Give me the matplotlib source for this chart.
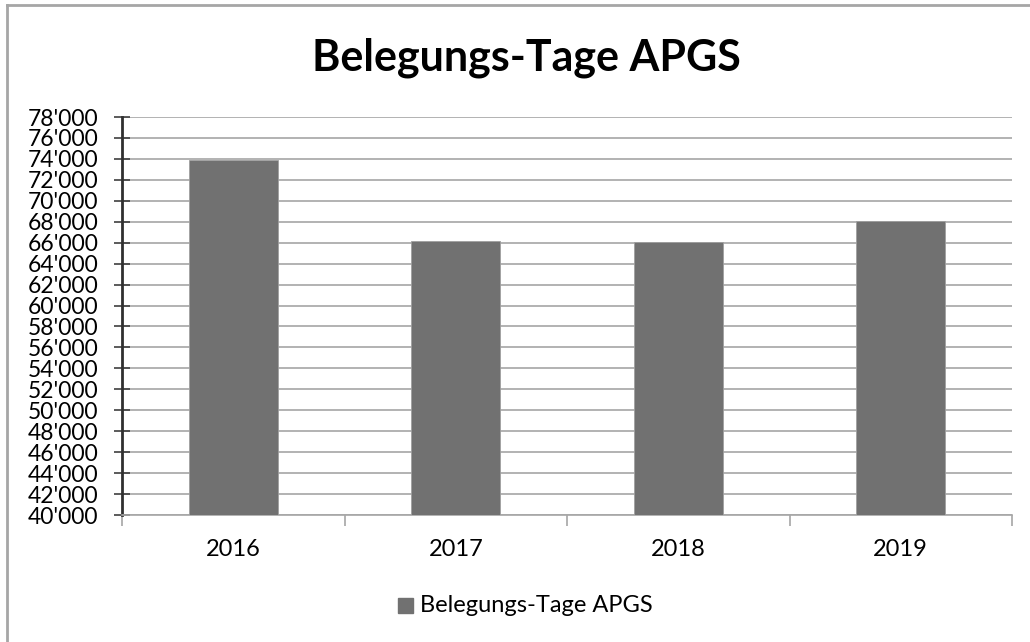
import matplotlib
matplotlib.use("Agg")
import matplotlib.pyplot as plt
from matplotlib.ticker import FuncFormatter, MultipleLocator
from matplotlib.lines import Line2D

plt.rcParams['font.family'] = ['Lato', 'DejaVu Sans']

# Daten
jahre = ['2016', '2017', '2018', '2019']
belegungstage = [73850, 66150, 66050, 68100]
titel = 'Belegungs-Tage APGS'

W, H = 1030, 642
fig = plt.figure(figsize=(W / 100, H / 100), dpi=100)

# Rahmen (nur links und oben sichtbar)
fig.add_artist(Line2D([7 / W, 7 / W], [0, 1 - 5 / H], color='#a6a6a6', lw=2))
fig.add_artist(Line2D([7 / W, 1], [1 - 5 / H, 1 - 5 / H], color='#a6a6a6', lw=2))

ax = fig.add_axes([122 / W, (H - 515) / H, 890 / W, 398 / H])

x = range(len(jahre))
ax.bar(x, belegungstage, width=0.4, color='#717171', edgecolor='#a0a0a0', lw=0.6, zorder=3)

ax.set_xlim(-0.5, len(jahre) - 0.5)
ax.set_ylim(40000, 78000)
ax.yaxis.set_major_locator(MultipleLocator(2000))
ax.yaxis.set_major_formatter(FuncFormatter(lambda v, p: f"{int(v):,}".replace(',', "'")))
ax.grid(axis='y', color='#a6a6a6', lw=1.2, zorder=0)

ax.set_xticks(list(x))
ax.set_xticklabels(jahre, fontsize=17)
ax.set_xticks([i - 0.5 for i in range(len(jahre) + 1)], minor=True)
ax.tick_params(axis='x', which='major', length=0, pad=17)
ax.tick_params(axis='x', which='minor', length=8, color='#a6a6a6', width=1.2, direction='out')
ax.tick_params(axis='y', labelsize=16.5, direction='inout', length=12, width=1.2,
               color='#404040', pad=11)

for s in ['top', 'right']:
    ax.spines[s].set_visible(False)
ax.spines['left'].set_color('#303030')
ax.spines['left'].set_linewidth(2)
ax.spines['bottom'].set_color('#a6a6a6')
ax.spines['bottom'].set_linewidth(1.2)

fig.text(526 / W, 1 - 58 / H, titel, ha='center', va='center', fontsize=31, fontweight='bold')

# Legende
fig.patches.append(plt.Rectangle((398 / W, 1 - 613 / H), 15 / W, 15 / H, transform=fig.transFigure,
                                 color='#717171', figure=fig))
fig.text(420 / W, 1 - 606 / H, titel, ha='left', va='center', fontsize=17)

fig.savefig('out.png', dpi=100)
